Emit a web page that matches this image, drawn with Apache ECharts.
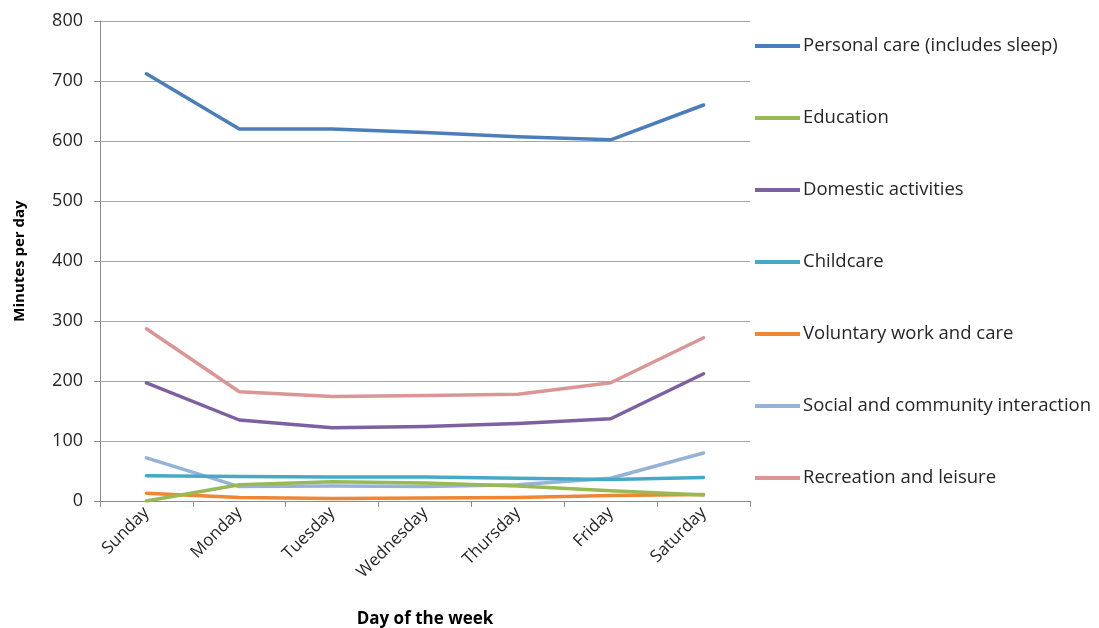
<!DOCTYPE html>
<html>
<head>
<meta charset="utf-8">
<script src="https://cdn.jsdelivr.net/npm/echarts@6/dist/echarts.min.js"></script>
<style>
  html, body { margin: 0; padding: 0; background: #ffffff; }
  #chart { width: 1099px; height: 628px; }
</style>
</head>
<body>
<div id="chart"></div>
<script>
// Average minutes per day spent on each activity, by day of the week
const days = ['Sunday', 'Monday', 'Tuesday', 'Wednesday', 'Thursday', 'Friday', 'Saturday'];
const seriesNames = [
  'Personal care (includes sleep)',
  'Education',
  'Domestic activities',
  'Childcare',
  'Voluntary work and care',
  'Social and community interaction',
  'Recreation and leisure'
];
const personalCare = [712, 620, 620, 614, 607, 602, 660];
const education    = [0, 27, 32, 30, 25, 17, 10];
const domestic     = [197, 135, 122, 124, 129, 137, 212];
const childcare    = [42, 41, 40, 40, 38, 36, 39];
const voluntary    = [13, 6, 4, 5, 6, 9, 11];
const social       = [72, 24, 25, 24, 27, 38, 80];
const recreation   = [287, 182, 174, 176, 178, 197, 272];
const yTicks = [0, 100, 200, 300, 400, 500, 600, 700, 800];

const values = [personalCare, education, domestic, childcare, voluntary, social, recreation];
const colors = ['#4a7ebb', '#98b954', '#7d60a0', '#46aac5', '#ee8634', '#95b3d7', '#d99694'];

const font = '"Open Sans", "DejaVu Sans", sans-serif';
const chart = echarts.init(document.getElementById('chart'));

chart.setOption({
  animation: false,
  backgroundColor: '#ffffff',
  color: colors,
  grid: { left: 100, right: 349, top: 21, bottom: 127, containLabel: false, outerBoundsMode: 'none' },
  legend: {
    orient: 'vertical',
    left: 750,
    top: 30,
    padding: 5,
    icon: 'rect',
    itemWidth: 45,
    itemHeight: 4,
    itemGap: 50,
    textStyle: { fontFamily: font, fontSize: 18.5, color: '#262626', padding: [0, 0, 0, -2], lineHeight: 22 },
    data: seriesNames
  },
  xAxis: {
    type: 'category',
    data: days,
    boundaryGap: true,
    name: 'Day of the week',
    nameLocation: 'middle',
    nameGap: 110,
    nameTextStyle: { fontFamily: font, fontSize: 17, fontWeight: 'bold', color: '#000' },
    axisLine: { lineStyle: { color: '#8c8c8c', width: 1 } },
    axisTick: { show: true, length: 6, alignWithLabel: false, lineStyle: { color: '#8c8c8c' } },
    axisLabel: { rotate: 45, fontFamily: font, fontSize: 17, color: '#262626', margin: 9, interval: 0 },
    splitLine: { show: false }
  },
  yAxis: {
    type: 'value',
    min: 0,
    max: 800,
    interval: 100,
    name: 'Minutes per day',
    nameLocation: 'middle',
    nameGap: 73,
    nameRotate: 90,
    nameTextStyle: { fontFamily: font, fontSize: 15, fontWeight: 'bold', color: '#000' },
    axisLine: { show: true, lineStyle: { color: '#8c8c8c', width: 1 } },
    axisTick: { show: true, length: 6, inside: false, lineStyle: { color: '#8c8c8c' } },
    axisLabel: {
      fontFamily: font, fontSize: 18, color: '#262626', margin: 17,
      formatter: v => (yTicks.includes(v) ? String(v) : '')
    },
    splitLine: { show: true, lineStyle: { color: '#a6a6a6', width: 1 } }
  },
  series: seriesNames.map((name, i) => ({
    name: name,
    type: 'line',
    data: values[i],
    symbol: 'none',
    showSymbol: false,
    smooth: false,
    lineStyle: { width: 3.5, color: colors[i], cap: 'round', join: 'round' },
    itemStyle: { color: colors[i] },
    z: 10 - i
  }))
});
</script>
</body>
</html>
